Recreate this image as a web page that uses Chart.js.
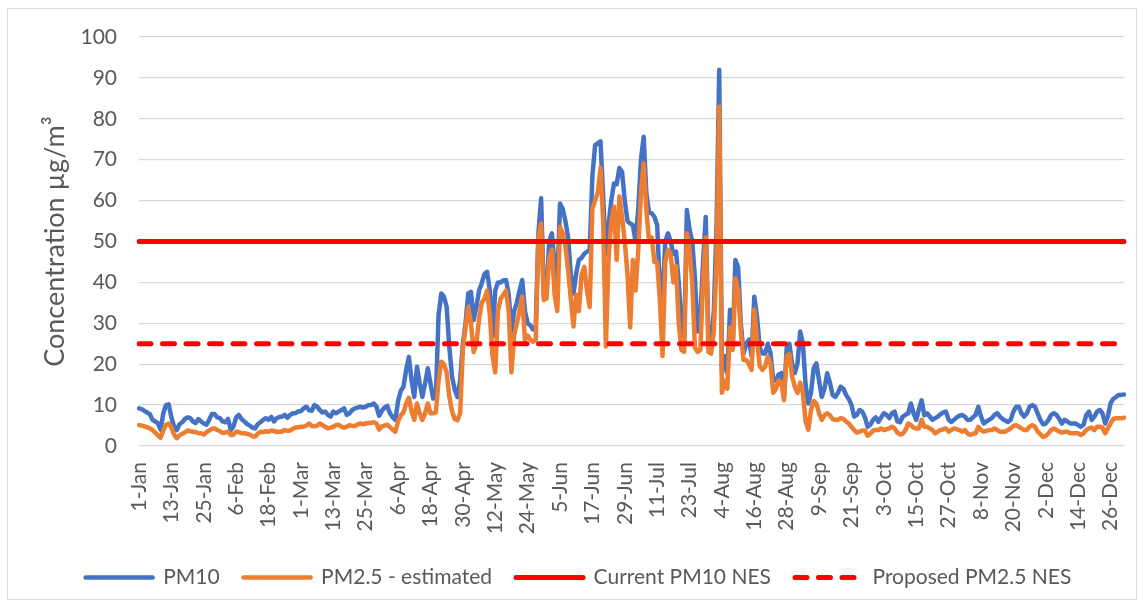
<!DOCTYPE html>
<html>
<head>
<meta charset="utf-8">
<script src="https://cdn.jsdelivr.net/npm/chart.js@4/dist/chart.umd.min.js"></script>
<style>
  html, body { margin: 0; padding: 0; background: #fff; }
  #wrap { position: relative; width: 1144px; height: 608px; }
</style>
</head>
<body>
<div id="wrap"><canvas id="pm-chart" width="1144" height="608"></canvas></div>
<script>
'use strict';

// Daily mean concentrations, 1 Jan to 31 Dec of a leap year (366 days)
var pm10 = [
  9.2, 9.0, 8.6, 8.2, 7.8, 6.4, 6.0, 5.6, 4.0, 8.0,
  10.0, 10.2, 7.0, 4.8, 3.9, 5.3, 5.8, 6.6, 7.0, 6.8,
  6.0, 5.6, 6.6, 6.0, 5.5, 5.2, 6.4, 7.8, 7.8, 7.0,
  6.8, 6.0, 5.8, 6.6, 3.9, 4.8, 7.0, 7.6, 6.6, 6.0,
  5.4, 5.0, 4.5, 4.3, 5.3, 5.8, 6.4, 6.8, 6.4, 7.1,
  6.0, 6.8, 7.1, 7.2, 7.6, 6.9, 7.6, 8.0, 8.0, 8.5,
  8.5, 9.2, 9.6, 8.8, 8.6, 10.0, 9.6, 8.8, 8.2, 8.4,
  7.6, 7.2, 8.4, 8.0, 8.4, 8.8, 9.2, 7.6, 8.0, 8.8,
  9.2, 9.4, 9.6, 9.4, 9.6, 10.0, 10.0, 10.4, 9.6, 7.4,
  8.6, 9.4, 9.8, 8.0, 7.0, 6.4, 11.0, 13.5, 14.5, 18.6,
  21.8, 16.0, 12.0, 19.4, 15.3, 12.0, 15.3, 19.0, 15.3, 11.6,
  12.0, 32.0, 37.3, 36.5, 34.0, 24.0, 17.0, 13.7, 12.0, 16.0,
  25.0, 30.0, 37.3, 37.7, 30.8, 34.0, 38.0, 39.8, 42.0, 42.6,
  38.0, 26.7, 38.0, 40.0, 40.0, 40.5, 40.6, 37.0, 28.0, 33.0,
  35.0, 38.0, 40.6, 33.0, 30.0, 29.5, 28.5, 29.0, 52.0, 60.6,
  36.5, 38.0, 50.0, 52.0, 44.0, 39.8, 59.3, 58.0, 55.0, 51.0,
  42.0, 37.3, 42.2, 45.5, 46.0, 47.0, 47.5, 48.0, 66.0, 73.5,
  74.0, 74.5, 61.0, 47.0, 54.0, 60.0, 64.2, 64.0, 68.0, 67.0,
  60.0, 55.0, 54.4, 54.0, 50.0, 58.0, 70.0, 75.6, 61.8, 57.0,
  56.9, 56.0, 54.0, 39.0, 35.7, 50.0, 52.0, 50.0, 47.0, 47.5,
  40.0, 30.0, 25.0, 57.7, 53.0, 50.0, 41.0, 28.0, 31.0, 45.0,
  56.0, 27.0, 24.3, 33.0, 53.6, 92.0, 17.8, 22.0, 17.8, 33.3,
  25.0, 45.5, 43.7, 30.0, 22.6, 25.0, 26.0, 22.0, 36.5, 31.6,
  24.0, 22.6, 22.6, 25.0, 22.7, 16.0, 16.0, 17.5, 17.8, 12.0,
  24.0, 25.0, 20.0, 17.8, 20.2, 28.0, 25.0, 15.0, 10.4, 13.0,
  19.0, 20.2, 16.0, 12.0, 14.0, 17.8, 15.5, 12.5, 12.0, 13.0,
  14.5, 14.0, 12.5, 11.5, 10.0, 7.2, 7.6, 8.8, 8.4, 7.0,
  4.7, 5.2, 6.4, 7.0, 5.9, 7.0, 8.0, 7.6, 6.8, 8.0,
  8.4, 6.0, 5.8, 7.2, 7.6, 8.0, 10.4, 8.0, 6.4, 9.0,
  11.2, 7.5, 8.0, 7.2, 6.4, 6.8, 7.2, 7.8, 8.2, 8.4,
  6.4, 5.9, 6.4, 7.0, 7.4, 7.6, 7.2, 6.4, 6.4, 7.0,
  7.6, 9.6, 7.2, 5.5, 6.0, 6.4, 6.8, 7.6, 8.0, 7.2,
  6.6, 6.2, 5.9, 6.4, 8.4, 9.6, 9.6, 8.0, 7.2, 8.0,
  9.6, 10.0, 9.6, 8.0, 6.4, 5.3, 5.5, 6.4, 7.6, 8.0,
  7.6, 6.6, 5.5, 6.4, 6.0, 5.5, 5.5, 5.5, 5.1, 4.7,
  5.2, 7.6, 8.4, 6.4, 7.2, 8.4, 8.8, 8.0, 5.5, 7.2,
  10.4, 11.5, 12.0, 12.5, 12.5, 12.6
];

var pm25 = [
  5.1, 5.0, 4.8, 4.6, 4.3, 3.9, 3.3, 2.6, 2.0, 3.8,
  5.2, 5.5, 4.5, 2.8, 1.9, 2.6, 3.0, 3.3, 3.8, 3.6,
  3.5, 3.4, 3.1, 3.1, 2.8, 3.4, 3.8, 4.2, 4.3, 3.9,
  3.6, 3.2, 3.3, 3.5, 2.7, 2.8, 3.5, 3.4, 3.1, 3.1,
  3.0, 2.8, 2.4, 2.3, 3.0, 3.5, 3.4, 3.6, 3.5, 3.8,
  3.7, 3.4, 3.5, 3.5, 3.9, 3.7, 3.8, 4.2, 4.5, 4.6,
  4.7, 4.7, 5.0, 5.5, 4.9, 4.8, 5.0, 5.5, 5.1, 4.7,
  4.3, 4.5, 4.7, 5.1, 5.2, 4.7, 4.5, 4.7, 5.1, 4.9,
  4.9, 5.3, 5.5, 5.3, 5.5, 5.6, 5.7, 5.8, 5.5, 4.0,
  4.8, 5.0, 5.2, 4.6, 4.0, 3.5, 6.0, 7.5, 8.2, 10.4,
  11.8, 8.5, 6.4, 10.4, 8.0, 6.4, 8.0, 10.4, 8.0, 8.0,
  8.2, 16.0, 20.6, 20.0, 18.0, 12.0, 8.5, 6.6, 6.3, 8.0,
  23.5, 29.0, 34.0, 30.0, 23.0, 25.0, 31.0, 35.0, 36.0, 38.0,
  32.0, 22.0, 18.0, 33.0, 36.0, 37.0, 38.0, 33.0, 18.0, 27.0,
  30.0, 33.0, 36.5, 26.0, 27.0, 26.0, 25.5, 26.0, 51.0, 54.4,
  35.7, 36.0, 46.0, 48.0, 37.0, 33.0, 53.6, 52.0, 49.0, 43.0,
  36.0, 29.2, 37.0, 33.0, 42.0, 43.8, 38.0, 34.0, 58.0, 60.0,
  62.0, 68.0, 55.0, 24.3, 46.0, 55.0, 58.5, 45.5, 61.0, 56.0,
  50.0, 42.0, 29.0, 45.5, 38.0, 48.0, 62.0, 69.1, 57.7, 50.0,
  51.0, 45.0, 45.0, 35.7, 22.0, 45.0, 48.0, 47.0, 40.0, 44.0,
  30.0, 23.5, 23.0, 52.0, 48.0, 40.0, 24.0, 23.0, 23.5, 40.0,
  51.0, 23.0, 22.6, 28.0, 45.0, 83.0, 13.0, 16.0, 14.0, 29.0,
  23.5, 41.0, 38.0, 28.0, 21.0, 21.0, 20.0, 18.6, 33.4, 26.0,
  19.5, 18.6, 19.4, 21.8, 20.2, 13.0, 14.0, 16.0, 15.5, 11.2,
  22.0, 22.5, 17.0, 14.5, 13.0, 15.5, 13.0, 6.0, 4.0, 8.8,
  11.0, 10.4, 8.0, 6.4, 7.5, 8.0, 7.5, 6.6, 6.4, 6.4,
  6.8, 6.6, 6.0, 5.5, 4.7, 3.9, 3.3, 3.5, 3.8, 3.8,
  2.5, 3.0, 3.8, 3.9, 3.9, 4.3, 3.9, 4.1, 4.3, 4.7,
  4.3, 3.3, 2.8, 3.0, 3.9, 5.5, 5.1, 4.5, 4.3, 4.3,
  6.4, 4.7, 4.7, 4.3, 3.9, 3.1, 3.5, 3.9, 4.1, 4.3,
  3.5, 3.9, 4.3, 4.1, 3.9, 3.5, 3.9, 3.1, 2.7, 3.0,
  3.1, 4.7, 3.9, 3.5, 3.7, 3.9, 3.9, 4.3, 3.9, 3.5,
  3.5, 3.5, 3.9, 4.3, 4.9, 5.1, 4.7, 4.3, 3.9, 3.9,
  4.7, 5.1, 4.7, 3.5, 2.9, 2.2, 2.5, 3.1, 3.9, 4.3,
  3.9, 3.5, 3.3, 3.5, 3.5, 3.1, 3.1, 3.1, 3.1, 2.7,
  3.1, 3.9, 4.3, 4.5, 3.9, 4.7, 4.7, 4.5, 3.1, 4.3,
  5.5, 6.6, 6.8, 6.8, 6.8, 6.9
];

// National Environmental Standards (24-hour)
var pm10Standard = 50;
var pm25Standard = 25;

var monthNames = ['Jan', 'Feb', 'Mar', 'Apr', 'May', 'Jun', 'Jul', 'Aug', 'Sep', 'Oct', 'Nov', 'Dec'];
var monthDays = [31, 29, 31, 30, 31, 30, 31, 31, 30, 31, 30, 31];
var tickEvery = 12; // one x label every 12 days

// day labels like '1-Jan'
var days = [];
for (var m = 0; m < monthNames.length; m++) {
  for (var d = 1; d <= monthDays[m]; d++) {
    days.push(d + '-' + monthNames[m]);
  }
}

var firstDay = days[0];
var lastDay = days[days.length - 1];

var textColor = '#595959';
var fontName = 'Lato, "Open Sans", sans-serif';

// white page with a thin frame round the whole chart
var framePlugin = {
  id: 'frame',
  beforeDraw: function(chart) {
    var c = chart.ctx;
    c.save();
    c.fillStyle = '#ffffff';
    c.fillRect(0, 0, chart.width, chart.height);
    c.strokeStyle = '#d9d9d9';
    c.lineWidth = 1;
    c.strokeRect(7.5, 8.5, 1129, 591);
    c.restore();
  }
};

// legend items: keep dataset order and carry the dash pattern of each line
function legendLabels(chart) {
  var items = Chart.defaults.plugins.legend.labels.generateLabels(chart);
  items.forEach(function(item) {
    var ds = chart.data.datasets[item.datasetIndex];
    item.lineDash = ds.borderDash || [];
    item.lineCap = 'round';
  });
  items.sort(function(a, b) {
    return a.datasetIndex - b.datasetIndex;
  });
  return items;
}

var ctx = document.getElementById('pm-chart').getContext('2d');

var pmChart = new Chart(ctx, {
  type: 'line',
  data: {
    labels: days,
    datasets: [
      {
        label: 'PM10',
        data: pm10,
        borderColor: '#4472c4',
        backgroundColor: '#4472c4',
        borderWidth: 4.5,
        order: 4
      },
      {
        label: 'PM2.5 - estimated',
        data: pm25,
        borderColor: '#ed7d31',
        backgroundColor: '#ed7d31',
        borderWidth: 4.5,
        order: 3
      },
      {
        label: 'Current PM10 NES',
        data: [{x: firstDay, y: pm10Standard}, {x: lastDay, y: pm10Standard}],
        borderColor: '#ff0000',
        backgroundColor: '#ff0000',
        borderWidth: 5,
        order: 2
      },
      {
        label: 'Proposed PM2.5 NES',
        data: [{x: firstDay, y: pm25Standard}, {x: lastDay, y: pm25Standard}],
        borderColor: '#ff0000',
        backgroundColor: '#ff0000',
        borderWidth: 5,
        borderDash: [12, 11.5],
        order: 1
      }
    ]
  },
  options: {
    responsive: false,
    devicePixelRatio: 1,
    animation: false,
    layout: {
      padding: {left: 31, right: 18, top: 37, bottom: 10}
    },
    elements: {
      point: {radius: 0, hoverRadius: 0},
      line: {tension: 0, borderCapStyle: 'round', borderJoinStyle: 'round', fill: false}
    },
    scales: {
      x: {
        grid: {display: false},
        border: {display: false},
        ticks: {
          autoSkip: false,
          minRotation: 90,
          maxRotation: 90,
          padding: 8,
          color: textColor,
          font: {family: fontName, size: 21},
          callback: function(value, index) {
            return index % tickEvery === 0 ? days[index] : null;
          }
        },
        afterFit: function(scale) {
          scale.height = 97;
        }
      },
      y: {
        min: 0,
        max: 100,
        border: {display: false},
        grid: {color: '#d9d9d9', lineWidth: 1.3, drawTicks: false},
        ticks: {
          stepSize: 10,
          padding: 22,
          color: textColor,
          font: {family: fontName, size: 21}
        },
        title: {
          display: true,
          text: 'Concentration µg/m³',
          color: textColor,
          font: {family: fontName, size: 27},
          padding: {top: 8, bottom: 0}
        },
        afterFit: function(scale) {
          scale.width = 139 - 31;
        }
      }
    },
    plugins: {
      tooltip: {enabled: false},
      legend: {
        position: 'bottom',
        labels: {
          usePointStyle: true,
          pointStyle: 'line',
          pointStyleWidth: 67,
          padding: 24,
          color: textColor,
          font: {family: fontName, size: 21},
          generateLabels: legendLabels
        }
      }
    }
  },
  plugins: [framePlugin]
});
</script>
</body>
</html>
